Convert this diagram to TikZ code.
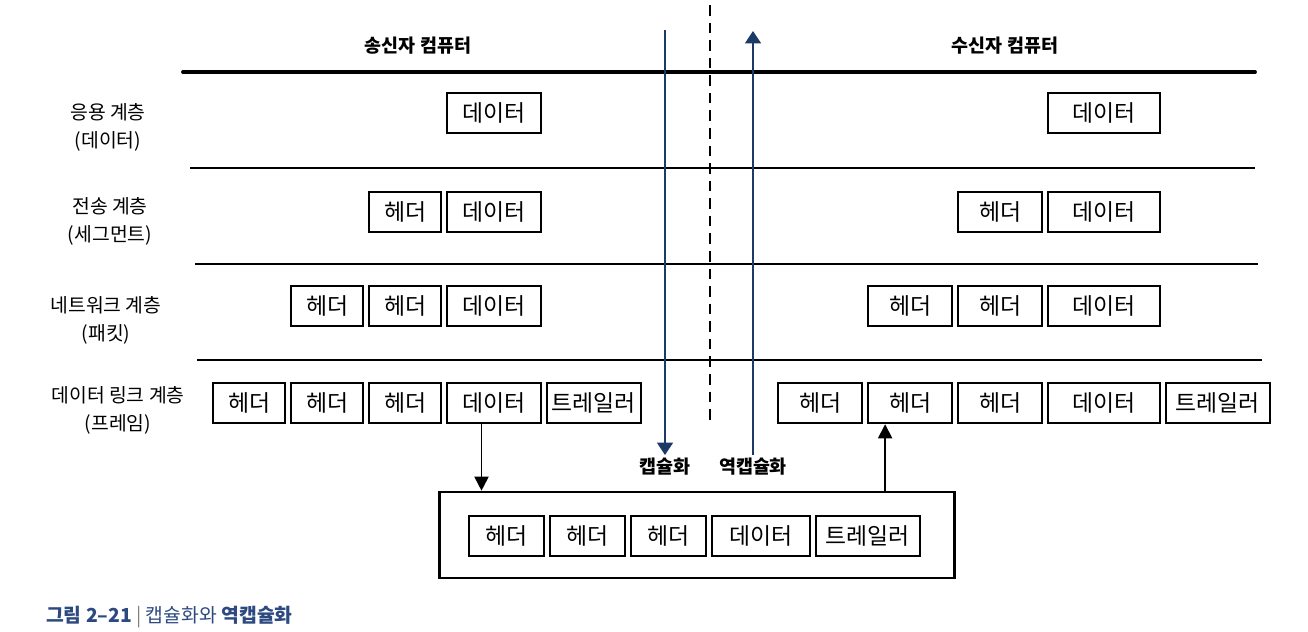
\documentclass[tikz,border=0pt]{standalone}
\usepackage{fontspec}
\setmainfont{Noto Sans CJK KR}
\usepackage{tikz}
\usetikzlibrary{arrows.meta, positioning}
\definecolor{navy}{RGB}{27,58,102}
\definecolor{capblue}{RGB}{45,74,128}
\tikzset{
    pdu/.style={rectangle, draw, line width=1.4pt, minimum height=0.8cm, inner sep=0pt, text centered, font=\fontsize{13}{15}\selectfont},
    hdr/.style={pdu, minimum width=#1}, hdr/.default=1.44cm,
    dat/.style={pdu, minimum width=#1}, dat/.default=1.88cm,
    trl/.style={pdu, minimum width=#1}, trl/.default=1.88cm,
    layerlabel/.style={align=center, font=\fontsize{11}{16}\selectfont},
    hostlabel/.style={font=\bfseries\fontsize{10.5}{12}\selectfont},
    divider/.style={line width=0.7pt},
    flow/.style={-{Triangle[width=8pt,length=8pt]}, line width=1pt},
    encap/.style={-{Triangle[width=9pt,length=7pt]}, navy, line width=0.9pt},
    framebox/.style={rectangle, draw, line width=1.5pt, minimum width=10.3cm, minimum height=1.72cm}
}
\begin{document}
\begin{tikzpicture}[x=0.02cm, y=-0.02cm, node distance=0.07cm]
    \useasboundingbox (0,0) rectangle (1308,632);

    % Hosts
    \node[hostlabel] (sender) at (418,46) {송신자 컴퓨터};
    \node[hostlabel] (receiver) at (1005,46) {수신자 컴퓨터};

    % Layer names
    \node[layerlabel] (app) at (108,127) {응용 계층\\(데이터)};
    \node[layerlabel] (transport) at (110,221) {전송 계층\\(세그먼트)};
    \node[layerlabel] (network) at (106,320) {네트워크 계층\\(패킷)};
    \node[layerlabel] (datalink) at (118,410) {데이터 링크 계층\\(프레임)};

    % Layer borders
    \coordinate (top_l) at (183,72);   \coordinate (top_r) at (1255,72);
    \coordinate (sep1_l) at (190,168); \coordinate (sep1_r) at (1255,168);
    \coordinate (sep2_l) at (195,264); \coordinate (sep2_r) at (1258,264);
    \coordinate (sep3_l) at (197,360); \coordinate (sep3_r) at (1262,360);
    \draw[line width=2.2pt, line cap=round] (top_l) -- (top_r);
    \draw[divider] (sep1_l) -- (sep1_r);
    \draw[divider] (sep2_l) -- (sep2_r);
    \draw[divider] (sep3_l) -- (sep3_r);

    % Sender: application layer
    \node[dat] (s_app_dat) at (494,113) {데이터};

    % Sender: transport layer
    \node[dat] (s_tr_dat) at (494,212) {데이터};
    \node[hdr, left=of s_tr_dat] (s_tr_hdr) {헤더};

    % Sender: network layer
    \node[dat] (s_net_dat) at (494,306) {데이터};
    \node[hdr, left=of s_net_dat] (s_net_hdr2) {헤더};
    \node[hdr, left=of s_net_hdr2] (s_net_hdr1) {헤더};

    % Sender: data link layer
    \node[dat] (s_dl_dat) at (494,403) {데이터};
    \node[hdr, left=of s_dl_dat] (s_dl_hdr3) {헤더};
    \node[hdr, left=of s_dl_hdr3] (s_dl_hdr2) {헤더};
    \node[hdr, left=of s_dl_hdr2] (s_dl_hdr1) {헤더};
    \node[trl, right=of s_dl_dat] (s_dl_trl) {트레일러};

    % Receiver: application layer
    \node[dat=2.24cm] (r_app_dat) at (1104,113) {데이터};

    % Receiver: transport layer
    \node[dat=2.24cm] (r_tr_dat) at (1104,212) {데이터};
    \node[hdr=1.68cm, left=of r_tr_dat] (r_tr_hdr) {헤더};

    % Receiver: network layer
    \node[dat=2.24cm] (r_net_dat) at (1104,306) {데이터};
    \node[hdr=1.68cm, left=of r_net_dat] (r_net_hdr2) {헤더};
    \node[hdr=1.68cm, left=of r_net_hdr2] (r_net_hdr1) {헤더};

    % Receiver: data link layer
    \node[dat=2.24cm] (r_dl_dat) at (1104,403) {데이터};
    \node[hdr=1.68cm, left=of r_dl_dat] (r_dl_hdr3) {헤더};
    \node[hdr=1.68cm, left=of r_dl_hdr3] (r_dl_hdr2) {헤더};
    \node[hdr=1.68cm, left=of r_dl_hdr2] (r_dl_hdr1) {헤더};
    \node[trl=2.08cm, right=of r_dl_dat] (r_dl_trl) {트레일러};

    % Frame on the wire
    \node[framebox] (frame) at (697,535) {};
    \node[dat=1.96cm] (f_dat) at (761,536) {데이터};
    \node[hdr=1.5cm, left=of f_dat] (f_hdr3) {헤더};
    \node[hdr=1.5cm, left=of f_hdr3] (f_hdr2) {헤더};
    \node[hdr=1.5cm, left=of f_hdr2] (f_hdr1) {헤더};
    \node[trl=2.08cm, right=of f_dat] (f_trl) {트레일러};

    % Encapsulation / decapsulation
    \coordinate (enc_top) at (665,30);  \coordinate (enc_end) at (665,455);
    \coordinate (dec_start) at (753,455); \coordinate (dec_top) at (753,31);
    \coordinate (mid_top) at (710,5);   \coordinate (mid_end) at (710,423);
    \draw[encap] (enc_top) -- (enc_end);
    \draw[encap] (dec_start) -- (dec_top);
    \draw[dashed, line width=0.8pt, dash pattern=on 6pt off 4pt] (mid_top) -- (mid_end);
    \node[hostlabel] (enc_label) at (665,467) {캡슐화};
    \node[hostlabel] (dec_label) at (753,467) {역캡슐화};

    % Flows
    \draw[flow] ([xshift=-0.25cm]s_dl_dat.south) -- ([xshift=-0.25cm]s_dl_dat.south |- frame.north);
    \draw[flow] ([xshift=-0.5cm]r_dl_hdr2.south |- frame.north) -- ([xshift=-0.5cm]r_dl_hdr2.south);

    % Caption
    \node[anchor=west, text=capblue, font=\fontsize{11}{12}\selectfont] (caption) at (40,617)
        {\textbf{그림 2–21}\ {\color{gray}|}\ 캡슐화와 \textbf{역캡슐화}};
\end{tikzpicture}
\end{document}
